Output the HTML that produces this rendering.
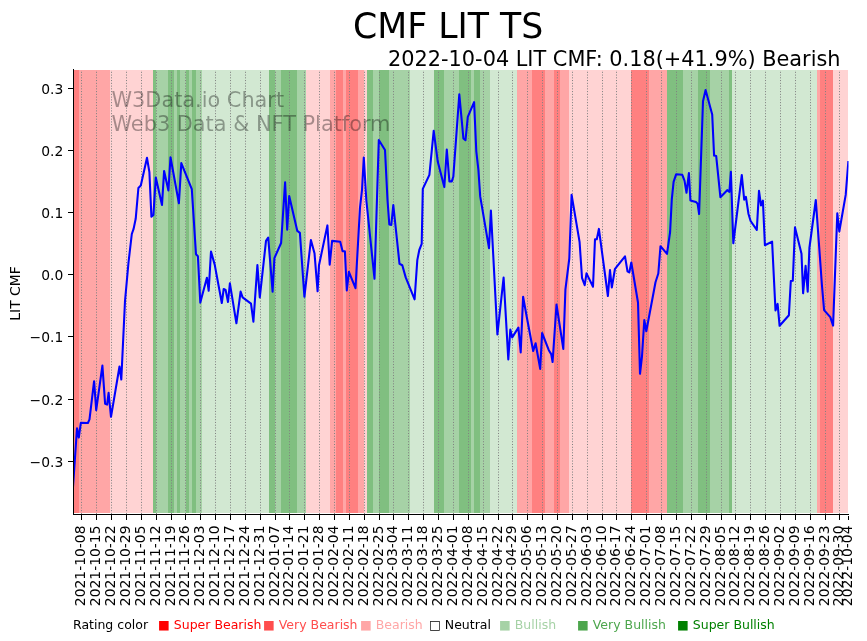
<!DOCTYPE html><html><head><meta charset="utf-8"><title>CMF LIT TS</title><style>html,body{margin:0;padding:0;background:#fff;}svg{display:block;}text{font-family:'DejaVu Sans', 'Liberation Sans', sans-serif;}</style></head><body>
<svg width="867" height="641" viewBox="0 0 867 641">
<rect width="867" height="641" fill="#fff"/>
<g shape-rendering="crispEdges">
<rect x="73" y="70" width="6" height="443" fill="#ff8080"/>
<rect x="79" y="70" width="31" height="443" fill="#ffa6a6"/>
<rect x="110" y="70" width="43" height="443" fill="#ffd3d3"/>
<rect x="153" y="70" width="3" height="443" fill="#80bf80"/>
<rect x="156" y="70" width="12" height="443" fill="#a6d2a6"/>
<rect x="168" y="70" width="6" height="443" fill="#80bf80"/>
<rect x="174" y="70" width="3" height="443" fill="#a6d2a6"/>
<rect x="177" y="70" width="3" height="443" fill="#80bf80"/>
<rect x="180" y="70" width="6" height="443" fill="#a6d2a6"/>
<rect x="186" y="70" width="3" height="443" fill="#80bf80"/>
<rect x="189" y="70" width="3" height="443" fill="#a6d2a6"/>
<rect x="192" y="70" width="4" height="443" fill="#80bf80"/>
<rect x="196" y="70" width="6" height="443" fill="#a6d2a6"/>
<rect x="202" y="70" width="67" height="443" fill="#d2e8d2"/>
<rect x="269" y="70" width="6" height="443" fill="#80bf80"/>
<rect x="275" y="70" width="6" height="443" fill="#a6d2a6"/>
<rect x="281" y="70" width="16" height="443" fill="#80bf80"/>
<rect x="297" y="70" width="9" height="443" fill="#a6d2a6"/>
<rect x="306" y="70" width="24" height="443" fill="#ffd3d3"/>
<rect x="330" y="70" width="6" height="443" fill="#ffa6a6"/>
<rect x="336" y="70" width="7" height="443" fill="#ff8080"/>
<rect x="343" y="70" width="3" height="443" fill="#ffa6a6"/>
<rect x="346" y="70" width="12" height="443" fill="#ff8080"/>
<rect x="358" y="70" width="6" height="443" fill="#ffa6a6"/>
<rect x="364" y="70" width="3" height="443" fill="#ffd3d3"/>
<rect x="367" y="70" width="6" height="443" fill="#80bf80"/>
<rect x="373" y="70" width="6" height="443" fill="#a6d2a6"/>
<rect x="379" y="70" width="10" height="443" fill="#80bf80"/>
<rect x="389" y="70" width="21" height="443" fill="#a6d2a6"/>
<rect x="410" y="70" width="24" height="443" fill="#d2e8d2"/>
<rect x="434" y="70" width="10" height="443" fill="#80bf80"/>
<rect x="444" y="70" width="15" height="443" fill="#a6d2a6"/>
<rect x="459" y="70" width="12" height="443" fill="#80bf80"/>
<rect x="471" y="70" width="3" height="443" fill="#a6d2a6"/>
<rect x="474" y="70" width="6" height="443" fill="#80bf80"/>
<rect x="480" y="70" width="10" height="443" fill="#a6d2a6"/>
<rect x="490" y="70" width="27" height="443" fill="#d2e8d2"/>
<rect x="517" y="70" width="15" height="443" fill="#ffa6a6"/>
<rect x="532" y="70" width="13" height="443" fill="#ff8080"/>
<rect x="545" y="70" width="9" height="443" fill="#ffa6a6"/>
<rect x="554" y="70" width="6" height="443" fill="#ff8080"/>
<rect x="560" y="70" width="9" height="443" fill="#ffa6a6"/>
<rect x="569" y="70" width="62" height="443" fill="#ffd3d3"/>
<rect x="631" y="70" width="18" height="443" fill="#ff8080"/>
<rect x="649" y="70" width="18" height="443" fill="#ffa6a6"/>
<rect x="667" y="70" width="16" height="443" fill="#80bf80"/>
<rect x="683" y="70" width="15" height="443" fill="#a6d2a6"/>
<rect x="698" y="70" width="12" height="443" fill="#80bf80"/>
<rect x="710" y="70" width="19" height="443" fill="#a6d2a6"/>
<rect x="729" y="70" width="3" height="443" fill="#80bf80"/>
<rect x="732" y="70" width="85" height="443" fill="#d2e8d2"/>
<rect x="817" y="70" width="3" height="443" fill="#ffa6a6"/>
<rect x="820" y="70" width="13" height="443" fill="#ff8080"/>
<rect x="833" y="70" width="15" height="443" fill="#ffd3d3"/>
</g>
<defs><clipPath id="gc"><rect x="70" y="70" width="790" height="444.3"/></clipPath></defs>
<g clip-path="url(#gc)" stroke="#808080" stroke-width="1" stroke-dasharray="1.04 1.717">
<line x1="81.5" y1="513.95" x2="81.5" y2="69.6"/>
<line x1="96.5" y1="513.95" x2="96.5" y2="69.6"/>
<line x1="111.5" y1="513.95" x2="111.5" y2="69.6"/>
<line x1="126.5" y1="513.95" x2="126.5" y2="69.6"/>
<line x1="141.5" y1="513.95" x2="141.5" y2="69.6"/>
<line x1="156.5" y1="513.95" x2="156.5" y2="69.6"/>
<line x1="171.5" y1="513.95" x2="171.5" y2="69.6"/>
<line x1="185.5" y1="513.95" x2="185.5" y2="69.6"/>
<line x1="200.5" y1="513.95" x2="200.5" y2="69.6"/>
<line x1="215.5" y1="513.95" x2="215.5" y2="69.6"/>
<line x1="230.5" y1="513.95" x2="230.5" y2="69.6"/>
<line x1="245.5" y1="513.95" x2="245.5" y2="69.6"/>
<line x1="260.5" y1="513.95" x2="260.5" y2="69.6"/>
<line x1="275.5" y1="513.95" x2="275.5" y2="69.6"/>
<line x1="289.5" y1="513.95" x2="289.5" y2="69.6"/>
<line x1="304.5" y1="513.95" x2="304.5" y2="69.6"/>
<line x1="319.5" y1="513.95" x2="319.5" y2="69.6"/>
<line x1="334.5" y1="513.95" x2="334.5" y2="69.6"/>
<line x1="349.5" y1="513.95" x2="349.5" y2="69.6"/>
<line x1="364.5" y1="513.95" x2="364.5" y2="69.6"/>
<line x1="379.5" y1="513.95" x2="379.5" y2="69.6"/>
<line x1="393.5" y1="513.95" x2="393.5" y2="69.6"/>
<line x1="408.5" y1="513.95" x2="408.5" y2="69.6"/>
<line x1="423.5" y1="513.95" x2="423.5" y2="69.6"/>
<line x1="438.5" y1="513.95" x2="438.5" y2="69.6"/>
<line x1="453.5" y1="513.95" x2="453.5" y2="69.6"/>
<line x1="468.5" y1="513.95" x2="468.5" y2="69.6"/>
<line x1="483.5" y1="513.95" x2="483.5" y2="69.6"/>
<line x1="498.5" y1="513.95" x2="498.5" y2="69.6"/>
<line x1="512.5" y1="513.95" x2="512.5" y2="69.6"/>
<line x1="527.5" y1="513.95" x2="527.5" y2="69.6"/>
<line x1="542.5" y1="513.95" x2="542.5" y2="69.6"/>
<line x1="557.5" y1="513.95" x2="557.5" y2="69.6"/>
<line x1="572.5" y1="513.95" x2="572.5" y2="69.6"/>
<line x1="587.5" y1="513.95" x2="587.5" y2="69.6"/>
<line x1="602.5" y1="513.95" x2="602.5" y2="69.6"/>
<line x1="616.5" y1="513.95" x2="616.5" y2="69.6"/>
<line x1="631.5" y1="513.95" x2="631.5" y2="69.6"/>
<line x1="646.5" y1="513.95" x2="646.5" y2="69.6"/>
<line x1="661.5" y1="513.95" x2="661.5" y2="69.6"/>
<line x1="676.5" y1="513.95" x2="676.5" y2="69.6"/>
<line x1="691.5" y1="513.95" x2="691.5" y2="69.6"/>
<line x1="706.5" y1="513.95" x2="706.5" y2="69.6"/>
<line x1="721.5" y1="513.95" x2="721.5" y2="69.6"/>
<line x1="735.5" y1="513.95" x2="735.5" y2="69.6"/>
<line x1="750.5" y1="513.95" x2="750.5" y2="69.6"/>
<line x1="765.5" y1="513.95" x2="765.5" y2="69.6"/>
<line x1="780.5" y1="513.95" x2="780.5" y2="69.6"/>
<line x1="795.5" y1="513.95" x2="795.5" y2="69.6"/>
<line x1="810.5" y1="513.95" x2="810.5" y2="69.6"/>
<line x1="825.5" y1="513.95" x2="825.5" y2="69.6"/>
<line x1="839.5" y1="513.95" x2="839.5" y2="69.6"/>
</g>
<g fill="#000" fill-opacity="0.35" font-size="20.83px">
<text x="111.5" y="107.3">W3Data.io Chart</text>
<text x="111.5" y="130.8">Web3 Data &amp; NFT Platform</text>
</g>
<defs><clipPath id="ax"><rect x="73.3" y="60" width="775.2" height="454.3"/></clipPath></defs>
<polyline clip-path="url(#ax)" fill="none" stroke="#0000ff" stroke-width="2.08" stroke-linejoin="round" stroke-linecap="square" points="73.0,487.0 77.0,428.2 78.8,437.5 80.8,422.9 87.9,423.0 89.5,419.4 94.1,381.2 96.2,410.1 102.4,365.6 105.1,403.8 107.1,404.6 108.6,392.9 111.0,416.8 119.5,366.5 121.3,379.5 125.0,301.0 128.5,262.5 131.8,234.0 133.6,228.9 135.7,218.8 138.4,188.0 140.8,185.6 147.0,157.8 149.4,172.2 151.4,216.7 153.4,215.0 155.8,177.5 162.0,205.0 164.1,171.1 168.4,190.4 170.5,157.3 178.9,203.2 181.3,163.1 191.8,189.2 196.0,254.3 197.9,256.2 200.3,302.6 206.9,277.7 208.7,290.8 211.0,251.5 214.7,264.6 221.8,303.0 223.7,289.0 225.6,289.9 228.0,302.0 229.9,283.3 236.4,323.3 240.6,291.6 242.6,297.4 251.0,303.6 253.4,321.7 257.4,265.1 259.8,297.4 266.0,240.9 268.2,237.5 272.6,291.6 274.4,258.1 281.1,243.0 285.1,182.2 287.2,229.8 289.2,196.0 297.3,230.9 299.9,232.9 304.4,296.8 310.9,240.0 314.5,253.2 317.6,291.3 319.0,265.3 327.4,225.4 329.7,264.7 332.1,240.9 340.2,241.8 342.6,251.2 344.9,251.2 346.8,290.5 348.9,271.8 355.5,288.2 360.0,207.5 362.0,190.0 363.8,157.5 366.3,200.0 374.5,278.8 378.8,140.0 385.0,150.0 387.5,200.0 389.3,224.5 391.3,225.0 393.3,205.0 399.5,263.8 402.3,265.2 405.7,277.4 414.6,299.3 417.3,260.1 419.3,250.0 421.7,243.9 422.8,188.9 429.4,174.9 433.7,130.9 437.8,161.8 444.3,187.1 446.8,149.6 449.4,181.4 451.8,181.4 453.3,176.8 459.3,94.4 463.4,138.4 465.5,140.2 467.8,116.8 474.1,102.2 476.3,151.3 478.4,169.9 480.2,196.4 489.0,248.1 490.9,210.6 497.4,334.5 503.6,277.5 508.3,359.4 510.3,329.6 512.2,337.4 518.4,327.6 520.7,352.5 523.1,296.8 527.0,318.2 533.2,351.0 535.6,343.2 540.2,368.9 542.1,333.0 548.8,350.2 551.2,354.1 552.6,362.0 556.5,304.5 563.3,348.9 565.4,289.7 569.3,258.5 571.6,194.8 579.6,242.2 582.0,277.8 584.7,285.2 586.5,273.4 593.0,286.7 595.0,239.3 596.8,239.3 598.9,228.9 607.9,296.0 610.0,270.0 611.8,287.5 615.0,268.8 625.0,256.3 627.5,271.3 629.3,272.5 631.3,262.5 638.0,302.5 640.0,373.8 642.0,356.3 644.3,320.0 646.3,331.3 655.5,282.3 658.3,273.5 660.5,246.2 667.0,253.9 670.1,232.0 671.8,199.3 673.6,181.8 676.2,174.2 682.3,174.8 684.5,180.7 686.5,192.8 688.9,173.1 690.4,200.4 695.9,201.9 697.6,203.7 699.1,214.0 703.0,101.2 705.6,90.1 712.2,114.5 714.1,155.6 716.2,156.1 720.4,197.2 727.2,190.2 729.4,191.8 730.9,171.8 733.3,243.3 741.8,175.0 744.2,199.6 745.9,196.8 748.5,214.0 750.6,221.0 756.8,229.9 759.0,190.9 761.0,205.4 762.9,200.7 764.9,245.2 772.1,241.6 775.5,310.5 777.6,303.9 779.6,325.8 788.9,315.2 790.8,281.1 792.8,280.7 795.0,227.4 801.5,253.8 803.1,293.3 805.6,265.9 807.7,291.7 809.4,248.0 815.8,200.0 821.9,284.8 824.1,310.1 830.3,317.1 833.1,325.6 837.3,213.2 839.3,231.5 845.7,194.9 848.3,162.0"/>
<g shape-rendering="crispEdges" fill="#000">
<rect x="73" y="69" width="1" height="446"/>
<rect x="73" y="514" width="776" height="1"/>
<rect x="68" y="88" width="5" height="1"/>
<rect x="68" y="150" width="5" height="1"/>
<rect x="68" y="212" width="5" height="1"/>
<rect x="68" y="274" width="5" height="1"/>
<rect x="68" y="336" width="5" height="1"/>
<rect x="68" y="399" width="5" height="1"/>
<rect x="68" y="461" width="5" height="1"/>
<rect x="81" y="515" width="1" height="5"/>
<rect x="96" y="515" width="1" height="5"/>
<rect x="111" y="515" width="1" height="5"/>
<rect x="126" y="515" width="1" height="5"/>
<rect x="141" y="515" width="1" height="5"/>
<rect x="156" y="515" width="1" height="5"/>
<rect x="171" y="515" width="1" height="5"/>
<rect x="185" y="515" width="1" height="5"/>
<rect x="200" y="515" width="1" height="5"/>
<rect x="215" y="515" width="1" height="5"/>
<rect x="230" y="515" width="1" height="5"/>
<rect x="245" y="515" width="1" height="5"/>
<rect x="260" y="515" width="1" height="5"/>
<rect x="275" y="515" width="1" height="5"/>
<rect x="289" y="515" width="1" height="5"/>
<rect x="304" y="515" width="1" height="5"/>
<rect x="319" y="515" width="1" height="5"/>
<rect x="334" y="515" width="1" height="5"/>
<rect x="349" y="515" width="1" height="5"/>
<rect x="364" y="515" width="1" height="5"/>
<rect x="379" y="515" width="1" height="5"/>
<rect x="393" y="515" width="1" height="5"/>
<rect x="408" y="515" width="1" height="5"/>
<rect x="423" y="515" width="1" height="5"/>
<rect x="438" y="515" width="1" height="5"/>
<rect x="453" y="515" width="1" height="5"/>
<rect x="468" y="515" width="1" height="5"/>
<rect x="483" y="515" width="1" height="5"/>
<rect x="498" y="515" width="1" height="5"/>
<rect x="512" y="515" width="1" height="5"/>
<rect x="527" y="515" width="1" height="5"/>
<rect x="542" y="515" width="1" height="5"/>
<rect x="557" y="515" width="1" height="5"/>
<rect x="572" y="515" width="1" height="5"/>
<rect x="587" y="515" width="1" height="5"/>
<rect x="602" y="515" width="1" height="5"/>
<rect x="616" y="515" width="1" height="5"/>
<rect x="631" y="515" width="1" height="5"/>
<rect x="646" y="515" width="1" height="5"/>
<rect x="661" y="515" width="1" height="5"/>
<rect x="676" y="515" width="1" height="5"/>
<rect x="691" y="515" width="1" height="5"/>
<rect x="706" y="515" width="1" height="5"/>
<rect x="721" y="515" width="1" height="5"/>
<rect x="735" y="515" width="1" height="5"/>
<rect x="750" y="515" width="1" height="5"/>
<rect x="765" y="515" width="1" height="5"/>
<rect x="780" y="515" width="1" height="5"/>
<rect x="795" y="515" width="1" height="5"/>
<rect x="810" y="515" width="1" height="5"/>
<rect x="825" y="515" width="1" height="5"/>
<rect x="839" y="515" width="1" height="5"/>
<rect x="848" y="516" width="1" height="4"/>
</g>
<g font-size="13.89px" fill="#000" text-anchor="end">
<text x="63.3" y="93.7">0.3</text>
<text x="63.3" y="155.7">0.2</text>
<text x="63.3" y="217.7">0.1</text>
<text x="63.3" y="279.7">0.0</text>
<text x="63.3" y="341.7">−0.1</text>
<text x="63.3" y="404.7">−0.2</text>
<text x="63.3" y="466.7">−0.3</text>
</g>
<g font-size="13.89px" fill="#000" text-anchor="end">
<text transform="translate(85.3,525.5) rotate(-90)">2021-10-08</text>
<text transform="translate(100.3,525.5) rotate(-90)">2021-10-15</text>
<text transform="translate(115.3,525.5) rotate(-90)">2021-10-22</text>
<text transform="translate(130.3,525.5) rotate(-90)">2021-10-29</text>
<text transform="translate(145.3,525.5) rotate(-90)">2021-11-05</text>
<text transform="translate(160.3,525.5) rotate(-90)">2021-11-12</text>
<text transform="translate(175.3,525.5) rotate(-90)">2021-11-19</text>
<text transform="translate(189.3,525.5) rotate(-90)">2021-11-26</text>
<text transform="translate(204.3,525.5) rotate(-90)">2021-12-03</text>
<text transform="translate(219.3,525.5) rotate(-90)">2021-12-10</text>
<text transform="translate(234.3,525.5) rotate(-90)">2021-12-17</text>
<text transform="translate(249.3,525.5) rotate(-90)">2021-12-24</text>
<text transform="translate(264.3,525.5) rotate(-90)">2021-12-31</text>
<text transform="translate(279.3,525.5) rotate(-90)">2022-01-07</text>
<text transform="translate(293.3,525.5) rotate(-90)">2022-01-14</text>
<text transform="translate(308.3,525.5) rotate(-90)">2022-01-21</text>
<text transform="translate(323.3,525.5) rotate(-90)">2022-01-28</text>
<text transform="translate(338.3,525.5) rotate(-90)">2022-02-04</text>
<text transform="translate(353.3,525.5) rotate(-90)">2022-02-11</text>
<text transform="translate(368.3,525.5) rotate(-90)">2022-02-18</text>
<text transform="translate(383.3,525.5) rotate(-90)">2022-02-25</text>
<text transform="translate(397.3,525.5) rotate(-90)">2022-03-04</text>
<text transform="translate(412.3,525.5) rotate(-90)">2022-03-11</text>
<text transform="translate(427.3,525.5) rotate(-90)">2022-03-18</text>
<text transform="translate(442.3,525.5) rotate(-90)">2022-03-25</text>
<text transform="translate(457.3,525.5) rotate(-90)">2022-04-01</text>
<text transform="translate(472.3,525.5) rotate(-90)">2022-04-08</text>
<text transform="translate(487.3,525.5) rotate(-90)">2022-04-15</text>
<text transform="translate(502.3,525.5) rotate(-90)">2022-04-22</text>
<text transform="translate(516.3,525.5) rotate(-90)">2022-04-29</text>
<text transform="translate(531.3,525.5) rotate(-90)">2022-05-06</text>
<text transform="translate(546.3,525.5) rotate(-90)">2022-05-13</text>
<text transform="translate(561.3,525.5) rotate(-90)">2022-05-20</text>
<text transform="translate(576.3,525.5) rotate(-90)">2022-05-27</text>
<text transform="translate(591.3,525.5) rotate(-90)">2022-06-03</text>
<text transform="translate(606.3,525.5) rotate(-90)">2022-06-10</text>
<text transform="translate(620.3,525.5) rotate(-90)">2022-06-17</text>
<text transform="translate(635.3,525.5) rotate(-90)">2022-06-24</text>
<text transform="translate(650.3,525.5) rotate(-90)">2022-07-01</text>
<text transform="translate(665.3,525.5) rotate(-90)">2022-07-08</text>
<text transform="translate(680.3,525.5) rotate(-90)">2022-07-15</text>
<text transform="translate(695.3,525.5) rotate(-90)">2022-07-22</text>
<text transform="translate(710.3,525.5) rotate(-90)">2022-07-29</text>
<text transform="translate(725.3,525.5) rotate(-90)">2022-08-05</text>
<text transform="translate(739.3,525.5) rotate(-90)">2022-08-12</text>
<text transform="translate(754.3,525.5) rotate(-90)">2022-08-19</text>
<text transform="translate(769.3,525.5) rotate(-90)">2022-08-26</text>
<text transform="translate(784.3,525.5) rotate(-90)">2022-09-02</text>
<text transform="translate(799.3,525.5) rotate(-90)">2022-09-09</text>
<text transform="translate(814.3,525.5) rotate(-90)">2022-09-16</text>
<text transform="translate(829.3,525.5) rotate(-90)">2022-09-23</text>
<text transform="translate(843.3,525.5) rotate(-90)">2022-09-30</text>
<text transform="translate(852.3,525.5) rotate(-90)">2022-10-04</text>
</g>
<text font-size="13.89px" text-anchor="middle" transform="translate(20,293.5) rotate(-90)">LIT CMF</text>
<text font-size="34.72px" x="448.1" y="37.9" text-anchor="middle">CMF LIT TS</text>
<text font-size="20.83px" x="840.5" y="65.6" text-anchor="end">2022-10-04 LIT CMF: 0.18(+41.9%) Bearish</text>
<g font-size="12.5px">
<text x="73" y="629" fill="#000">Rating color</text>
<text x="158" y="629" fill="#ff0000">■ Super Bearish</text>
<text x="263" y="629" fill="#ff4d4d">■ Very Bearish</text>
<text x="360" y="629" fill="#ffa6a6">■ Bearish</text>
<text x="429" y="629" fill="#000">□ Neutral</text>
<text x="499" y="629" fill="#a6d2a6">■ Bullish</text>
<text x="577" y="629" fill="#4da64d">■ Very Bullish</text>
<text x="677" y="629" fill="#008000">■ Super Bullish</text>
</g>
</svg></body></html>
